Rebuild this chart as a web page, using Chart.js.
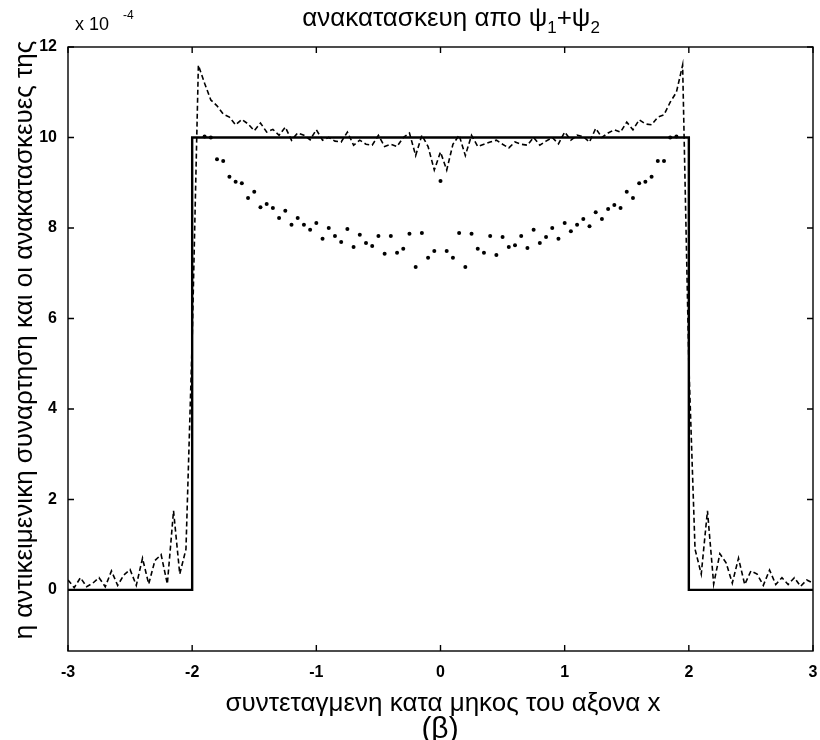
<!DOCTYPE html>
<html>
<head>
<meta charset="utf-8">
<script src="https://cdn.jsdelivr.net/npm/chart.js@4.4.1/dist/chart.umd.min.js"></script>
<style>
  html, body { margin: 0; padding: 0; background: #fff; }
  #wrap { width: 820px; height: 740px; position: relative; }
</style>
</head>
<body>
<div id="wrap"><canvas id="c" width="820" height="740"></canvas></div>
<script>
// Values are in units of 1e-4 (see the "x 10^-4" multiplier above the y axis).

// Original object function: a rectangle of height 10 on [-2, 2]
const rectX = [-3, -2, -2, 2, 2, 3];
const rectY = [0, 0, 10, 10, 0, 0];

// Sampling grid for the first reconstruction (dashed)
const gridX = [
  -3.00, -2.95, -2.90, -2.85, -2.80, -2.75, -2.70, -2.65, -2.60, -2.55, -2.50,
  -2.45, -2.40, -2.35, -2.30, -2.25, -2.20, -2.15, -2.10, -2.05, -2.00,
  -1.95, -1.90, -1.85, -1.80, -1.75, -1.70, -1.65, -1.60, -1.55, -1.50,
  -1.45, -1.40, -1.35, -1.30, -1.25, -1.20, -1.15, -1.10, -1.05, -1.00,
  -0.95, -0.90, -0.85, -0.80, -0.75, -0.70, -0.65, -0.60, -0.55, -0.50,
  -0.45, -0.40, -0.35, -0.30, -0.25, -0.20, -0.15, -0.10, -0.05, 0.00,
  0.05, 0.10, 0.15, 0.20, 0.25, 0.30, 0.35, 0.40, 0.45, 0.50,
  0.55, 0.60, 0.65, 0.70, 0.75, 0.80, 0.85, 0.90, 0.95, 1.00,
  1.05, 1.10, 1.15, 1.20, 1.25, 1.30, 1.35, 1.40, 1.45, 1.50,
  1.55, 1.60, 1.65, 1.70, 1.75, 1.80, 1.85, 1.90, 1.95, 2.00,
  2.05, 2.10, 2.15, 2.20, 2.25, 2.30, 2.35, 2.40, 2.45, 2.50,
  2.55, 2.60, 2.65, 2.70, 2.75, 2.80, 2.85, 2.90, 2.95, 3.00
];
const dashedY = [
  0.22, 0.05, 0.27, 0.07, 0.15, 0.27, 0.07, 0.42, 0.10, 0.33, 0.45,
  0.10, 0.70, 0.13, 0.65, 0.78, 0.13, 1.75, 0.35, 0.90, 5.50,
  11.60, 11.20, 10.83, 10.70, 10.52, 10.45, 10.28, 10.40, 10.30, 10.15,
  10.32, 10.12, 10.18, 10.05, 10.23, 9.94, 10.10, 10.05, 9.95, 10.17,
  9.94, 10.00, 9.92, 9.90, 10.12, 9.83, 9.94, 9.85, 9.83, 10.05,
  9.80, 9.85, 9.80, 10.00, 10.10, 9.60, 10.05, 9.80, 9.28, 9.68,
  9.28, 9.85, 10.05, 9.60, 10.05, 9.80, 9.85, 9.90, 9.94, 9.85,
  9.77, 9.90, 9.85, 9.83, 10.00, 9.83, 9.92, 10.00, 9.86, 10.12,
  9.94, 10.05, 10.02, 9.90, 10.20, 10.00, 10.10, 10.17, 10.12, 10.34,
  10.17, 10.39, 10.30, 10.28, 10.45, 10.50, 10.78, 11.00, 11.60, 5.00,
  0.90, 0.35, 1.75, 0.13, 0.80, 0.60, 0.15, 0.70, 0.12, 0.42,
  0.35, 0.10, 0.44, 0.12, 0.27, 0.12, 0.27, 0.08, 0.22, 0.15
];

// Second reconstruction (dotted), sampled inside the support
const dotX = [
  -1.90, -1.85, -1.80, -1.75, -1.70, -1.65, -1.60, -1.55, -1.50, -1.45, -1.40,
  -1.35, -1.30, -1.25, -1.20, -1.15, -1.10, -1.05, -1.00, -0.95, -0.90,
  -0.85, -0.80, -0.75, -0.70, -0.65, -0.60, -0.55, -0.50, -0.45, -0.40,
  -0.35, -0.30, -0.25, -0.20, -0.15, -0.10, -0.05, 0.00, 0.05, 0.10,
  0.15, 0.20, 0.25, 0.30, 0.35, 0.40, 0.45, 0.50, 0.55, 0.60,
  0.65, 0.70, 0.75, 0.80, 0.85, 0.90, 0.95, 1.00, 1.05, 1.10,
  1.15, 1.20, 1.25, 1.30, 1.35, 1.40, 1.45, 1.50, 1.55, 1.60,
  1.65, 1.70, 1.75, 1.80, 1.85, 1.90
];
const dotY = [
  10.02, 10.00, 9.52, 9.48, 9.13, 9.02, 8.99, 8.66, 8.80, 8.46, 8.53,
  8.44, 8.22, 8.38, 8.07, 8.22, 8.07, 7.96, 8.11, 7.76, 8.00,
  7.82, 7.69, 7.98, 7.58, 7.85, 7.67, 7.60, 7.82, 7.43, 7.82,
  7.45, 7.54, 7.87, 7.14, 7.89, 7.34, 7.49, 9.04, 7.49, 7.34,
  7.89, 7.14, 7.87, 7.54, 7.45, 7.82, 7.40, 7.80, 7.58, 7.62,
  7.82, 7.56, 7.96, 7.67, 7.80, 8.00, 7.76, 8.11, 7.93, 8.07,
  8.20, 8.04, 8.35, 8.20, 8.42, 8.51, 8.44, 8.80, 8.66, 8.99,
  9.02, 9.13, 9.48, 9.48, 10.00, 10.02
];

// Axis ticks
const xTicks = [-3, -2, -1, 0, 1, 2, 3];
const yTicks = [0, 2, 4, 6, 8, 10, 12];

const titleParts = [
  { t: 'ανακατασκευη απο ψ', sub: false },
  { t: '1', sub: true },
  { t: '+ψ', sub: false },
  { t: '2', sub: true }
];
const xTitle = 'συντεταγμενη κατα μηκος του αξονα x';
const yTitle = 'η αντικειμενικη συναρτηση και οι ανακατασκευες της';
const panelLabel = '(β)';

const FONT = '"Liberation Sans", Arial, sans-serif';

const pts = (xs, ys) => xs.map((x, i) => ({ x: x, y: ys[i] }));

// Frame, inward ticks on all four sides, and the text around the axes
const framePlugin = {
  id: 'frame',
  afterDatasetsDraw(chart) {
    const { ctx, chartArea: a, scales } = chart;
    const xs = scales.x, ys = scales.y;
    const L = 6;
    ctx.save();
    ctx.strokeStyle = '#000';
    ctx.lineWidth = 1.4;
    ctx.strokeRect(a.left, a.top, a.right - a.left, a.bottom - a.top);
    ctx.beginPath();
    xTicks.forEach(v => {
      const p = xs.getPixelForValue(v);
      ctx.moveTo(p, a.bottom); ctx.lineTo(p, a.bottom - L);
      ctx.moveTo(p, a.top); ctx.lineTo(p, a.top + L);
    });
    yTicks.forEach(v => {
      const p = ys.getPixelForValue(v);
      ctx.moveTo(a.left, p); ctx.lineTo(a.left + L, p);
      ctx.moveTo(a.right, p); ctx.lineTo(a.right - L, p);
    });
    ctx.stroke();
    ctx.restore();
  },
  afterDraw(chart) {
    const { ctx } = chart;
    ctx.save();
    ctx.fillStyle = '#000';
    ctx.textBaseline = 'alphabetic';

    // main title with subscripts
    const big = '26px ' + FONT, small = '17px ' + FONT;
    let total = 0;
    titleParts.forEach(p => { ctx.font = p.sub ? small : big; total += ctx.measureText(p.t).width; });
    let x = 451 - total / 2;
    titleParts.forEach(p => {
      ctx.font = p.sub ? small : big;
      ctx.textAlign = 'left';
      ctx.fillText(p.t, x, p.sub ? 33 : 26);
      x += ctx.measureText(p.t).width;
    });

    // exponent multiplier
    ctx.font = '18px ' + FONT;
    ctx.textAlign = 'left';
    ctx.fillText('x 10', 75, 30);
    ctx.font = '12px ' + FONT;
    ctx.fillText('-4', 123, 19);

    // x axis title and panel label
    ctx.font = '26px ' + FONT;
    ctx.textAlign = 'center';
    ctx.fillText(xTitle, 443, 711);
    ctx.font = '30px ' + FONT;
    ctx.fillText(panelLabel, 440, 738);

    // y axis title
    ctx.translate(32, 340);
    ctx.rotate(-Math.PI / 2);
    ctx.font = '26px ' + FONT;
    ctx.textAlign = 'center';
    ctx.fillText(yTitle, 0, 0);
    ctx.restore();
  }
};

new Chart(document.getElementById('c'), {
  type: 'scatter',
  data: {
    datasets: [
      {
        label: 'object',
        data: pts(rectX, rectY),
        showLine: true,
        borderColor: '#000',
        borderWidth: 2.4,
        pointRadius: 0,
        tension: 0
      },
      {
        label: 'reconstruction 1',
        data: pts(gridX, dashedY),
        showLine: true,
        borderColor: '#000',
        borderWidth: 1.6,
        borderDash: [5, 3],
        pointRadius: 0,
        tension: 0
      },
      {
        label: 'reconstruction 2',
        data: pts(dotX, dotY),
        showLine: false,
        pointRadius: 2,
        pointBackgroundColor: '#000',
        pointBorderWidth: 0
      }
    ]
  },
  options: {
    responsive: false,
    animation: false,
    layout: { padding: { top: 47, right: 7, bottom: 0, left: 0 } },
    plugins: { legend: { display: false }, tooltip: { enabled: false } },
    scales: {
      x: {
        type: 'linear',
        min: -3, max: 3,
        afterBuildTicks: s => { s.ticks = xTicks.map(v => ({ value: v })); },
        afterFit: s => { s.height = 89; s.paddingLeft = 0; s.paddingRight = 0; },
        grid: { display: false, drawTicks: false },
        border: { display: false },
        ticks: {
          color: '#000',
          padding: 12,
          font: { family: FONT, size: 16, weight: 'bold' },
          callback: v => String(v)
        }
      },
      y: {
        type: 'linear',
        min: -1.35, max: 12,
        afterBuildTicks: s => { s.ticks = yTicks.map(v => ({ value: v })); },
        afterFit: s => { s.width = 68; s.paddingTop = 0; s.paddingBottom = 0; },
        grid: { display: false, drawTicks: false },
        border: { display: false },
        ticks: {
          color: '#000',
          padding: 11,
          font: { family: FONT, size: 16, weight: 'bold' },
          callback: v => String(v)
        }
      }
    }
  },
  plugins: [framePlugin]
});
</script>
</body>
</html>
